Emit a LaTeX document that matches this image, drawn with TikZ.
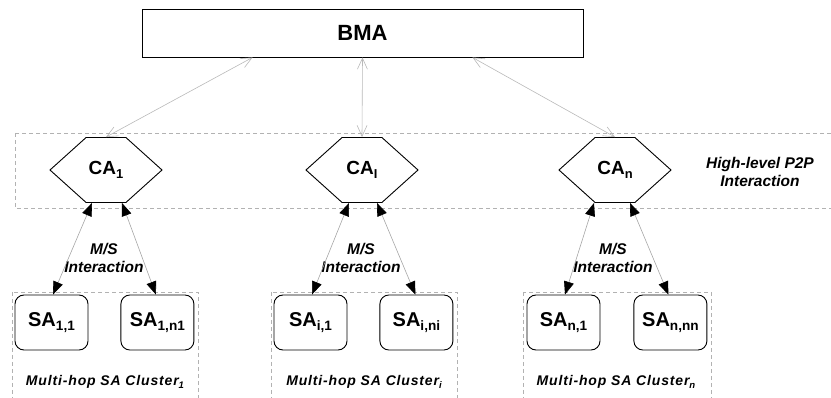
\documentclass[tikz,border=0pt]{standalone}
\usepackage{fontspec}
\setmainfont{Liberation Sans}
\usetikzlibrary{positioning,shapes.symbols,arrows.meta}
\makeatletter
\newcommand{\idx}[1]{\raisebox{-0.35ex}{\fontsize{\the\dimexpr0.68\dimexpr\f@size pt\relax\relax}{1pt}\selectfont #1}}
\makeatother

\begin{document}
\begin{tikzpicture}[
      x=1pt, y=-1pt,
      node distance=32pt,
      agent/.style={draw, line width=0.9pt, fill=white},
      bmabox/.style={agent, minimum width=441pt, minimum height=48pt, font=\fontsize{22}{26}\selectfont\bfseries},
      cahex/.style={agent, signal, signal to=west and east, signal pointer angle=84,
        minimum width=112pt, minimum height=65pt, inner sep=0pt, font=\fontsize{19}{22}\selectfont\bfseries},
      sabox/.style={agent, rounded corners=9pt, minimum width=73pt, minimum height=55pt,
        inner sep=0pt, font=\fontsize{20}{24}\selectfont\bfseries},
      note/.style={align=center, inner sep=0pt, font=\fontsize{15.5}{18.5}\selectfont\bfseries\itshape},
      cluster/.style={inner sep=0pt, font=\fontsize{14}{16}\selectfont\bfseries\itshape\addfontfeature{LetterSpace=6}},
      region/.style={draw=gray!60, dash pattern=on 4pt off 3pt, line width=0.7pt},
      toplink/.style={draw=gray!55, line width=0.6pt,
        {Straight Barb[length=11pt,width=10pt]}-{Straight Barb[length=11pt,width=10pt]}},
      mslink/.style={draw=gray!70, line width=0.6pt,
        {Triangle[length=13pt,width=10pt,color=black]}-{Triangle[length=13pt,width=10pt,color=black]}}
    ]
    \useasboundingbox (0,0) rectangle (831,398);

    % Dashed regions
    \draw[region] (15,133) rectangle (845,208);
    \draw[region] (12,292) rectangle (198,410);
    \draw[region] (271,292) rectangle (457,410);
    \draw[region] (523,292) rectangle (711,410);

    % Agents
    \node[bmabox] (bma) at (362.5,33) {BMA};
    \node[cahex] (ca1) at (106,170) {CA\idx{1}};
    \node[cahex] (cai) at (362,170) {CA\idx{I}};
    \node[cahex] (can) at (615,170) {CA\idx{n}};

    \node[sabox] (sa11) at (51.5,322.5) {SA\idx{1,1}};
    \node[sabox, right=of sa11] (sa1n) {SA\idx{1,n1}};
    \node[sabox] (sai1) at (310.5,322.5) {SA\idx{i,1}};
    \node[sabox, right=of sai1] (sain) {SA\idx{i,ni}};
    \node[sabox] (san1) at (563.5,322.5) {SA\idx{n,1}};
    \node[sabox, right=33pt of san1] (sann) {SA\idx{n,nn}};

    % Labels
    \node[note] (p2p) at (760,172) {High-level P2P\\Interaction};
    \node[note] (ms1) at (104,258) {M/S\\Interaction};
    \node[note] (msi) at (361,258) {M/S\\Interaction};
    \node[note] (msn) at (613,258) {M/S\\Interaction};
    \node[cluster] (cl1) at (105,382) {Multi-hop SA Cluster\idx{1}};
    \node[cluster] (cli) at (364,382) {Multi-hop SA Cluster\idx{i}};
    \node[cluster] (cln) at (616,382) {Multi-hop SA Cluster\idx{n}};

    % Links to the BMA
    \draw[toplink] ([xshift=-110pt]bma.south) -- (ca1.north);
    \draw[toplink] (bma.south) -- (cai.north);
    \draw[toplink] ([xshift=110pt]bma.south) -- (can.north);

    % Master/slave links
    \draw[mslink] ([xshift=-14pt]ca1.south) -- ([xshift=1.5pt]sa11.north);
    \draw[mslink] ([xshift=16pt]ca1.south) -- ([xshift=-1.5pt]sa1n.north);
    \draw[mslink] ([xshift=-13pt]cai.south) -- ([xshift=1.5pt]sai1.north);
    \draw[mslink] ([xshift=15pt]cai.south) -- ([xshift=-1pt]sain.north);
    \draw[mslink] ([xshift=-21pt]can.south) -- ([xshift=1.5pt]san1.north);
    \draw[mslink] ([xshift=15pt]can.south) -- ([xshift=-2pt]sann.north);

    \end{tikzpicture}
\end{document}
